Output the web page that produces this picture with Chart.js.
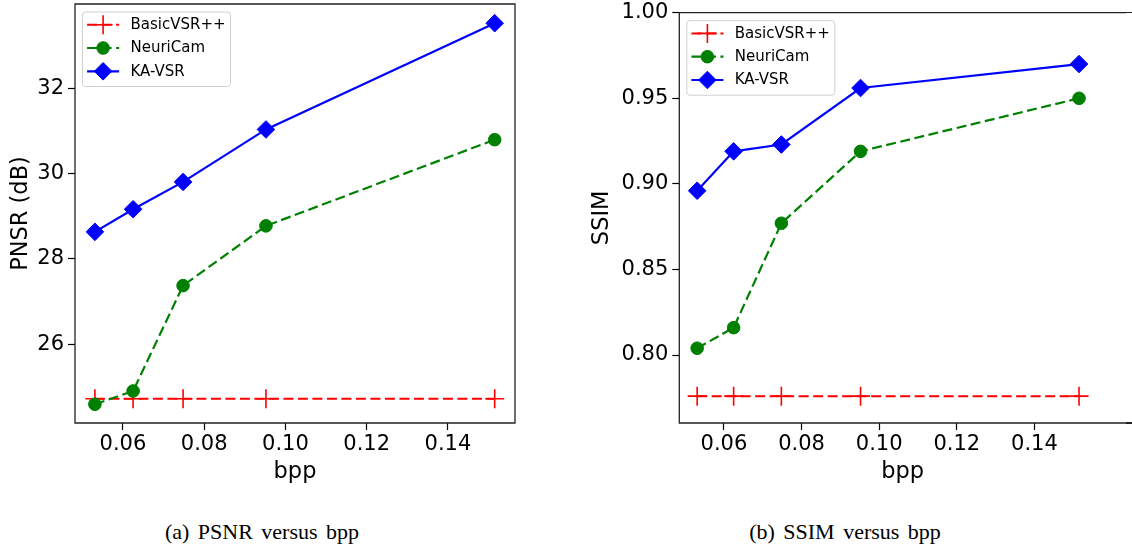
<!DOCTYPE html>
<html>
<head>
<meta charset="utf-8">
<script src="https://cdn.jsdelivr.net/npm/chart.js@4.4.1/dist/chart.umd.min.js"></script>
<style>
  html, body { margin: 0; padding: 0; background: #fff; width: 1132px; height: 549px; overflow: hidden; position: relative; }
  canvas { position: absolute; top: 0; }
  #c1 { left: 0; }
  #c2 { left: 570px; }
  .cap { position: absolute; font-family: "Liberation Serif", "Times New Roman", serif; font-size: 22px; word-spacing: 3px; color: #000; text-align: center; width: 300px; top: 517px; line-height: 30px; white-space: nowrap; }
  .spine { position: absolute; left: 1126px; width: 6px; height: 1.3px; background: #222; }
</style>
</head>
<body>
<canvas id="c1" width="530" height="500"></canvas>
<canvas id="c2" width="556" height="500"></canvas>
<div class="spine" style="top:12.05px;"></div>
<div class="spine" style="top:422.35px;"></div>
<div class="cap" style="left:112px;">(a) PSNR versus bpp</div>
<div class="cap" style="left:695px;">(b) SSIM versus bpp</div>
<script>
// ---- data ----
const bpp = [0.0531, 0.0625, 0.0748, 0.0952, 0.1515];
const seriesNames = ['BasicVSR++', 'NeuriCam', 'KA-VSR'];
const psnrBasicVSR = [24.72, 24.72, 24.72, 24.72, 24.72];
const psnrNeuriCam = [24.59, 24.90, 27.37, 28.77, 30.79];
const psnrKAVSR = [28.63, 29.16, 29.80, 31.03, 33.52];
const ssimBasicVSR = [0.776, 0.776, 0.776, 0.776, 0.776];
const ssimNeuriCam = [0.804, 0.816, 0.877, 0.919, 0.950];
const ssimKAVSR = [0.896, 0.919, 0.923, 0.956, 0.970];
const xTicks = [0.06, 0.08, 0.10, 0.12, 0.14];
const psnrTicks = [26, 28, 30, 32];
const ssimTicks = [0.80, 0.85, 0.90, 0.95, 1.00];

const FONT = '"DejaVu Sans", Verdana, sans-serif';

function pts(xs, ys) { return xs.map((x, i) => ({ x: x, y: ys[i] })); }

function makeDatasets(basic, neuri, ka) {
  return [
    { label: seriesNames[0], data: pts(bpp, basic), borderColor: '#ff0000', backgroundColor: '#ff0000',
      borderWidth: 2, borderDash: [10, 4.5], pointStyle: 'cross', pointRadius: 9.5, pointBorderWidth: 1.6,
      pointBorderColor: '#ff0000', pointBackgroundColor: '#ff0000', order: 3 },
    { label: seriesNames[1], data: pts(bpp, neuri), borderColor: '#008000', backgroundColor: '#008000',
      borderWidth: 2.2, borderDash: [10, 4.5], pointStyle: 'circle', pointRadius: 6.3, pointBorderWidth: 1,
      pointBorderColor: '#008000', pointBackgroundColor: '#008000', order: 2 },
    { label: seriesNames[2], data: pts(bpp, ka), borderColor: '#0000ff', backgroundColor: '#0000ff',
      borderWidth: 2.2, borderDash: [], pointStyle: 'rectRot', pointRadius: 8.8, pointBorderWidth: 1,
      pointBorderColor: '#0000ff', pointBackgroundColor: '#0000ff', order: 1 }
  ];
}

function drawMarker(ctx, style, x, y, r, color, bw) {
  ctx.save();
  ctx.fillStyle = color; ctx.strokeStyle = color; ctx.lineWidth = bw;
  ctx.setLineDash([]);
  ctx.beginPath();
  if (style === 'cross') {
    ctx.moveTo(x - r, y); ctx.lineTo(x + r, y);
    ctx.moveTo(x, y - r); ctx.lineTo(x, y + r);
    ctx.stroke();
  } else if (style === 'circle') {
    ctx.arc(x, y, r, 0, Math.PI * 2); ctx.fill(); ctx.stroke();
  } else {
    ctx.moveTo(x, y - r); ctx.lineTo(x + r, y); ctx.lineTo(x, y + r); ctx.lineTo(x - r, y); ctx.closePath();
    ctx.fill(); ctx.stroke();
  }
  ctx.restore();
}

const framePlugin = {
  id: 'frame',
  beforeDatasetsDraw(chart) {
    const { ctx, chartArea: a } = chart;
    const drawRight = chart.canvas.id === 'c1';
    ctx.save();
    ctx.strokeStyle = '#222';
    ctx.lineWidth = 1.3;
    ctx.beginPath();
    ctx.moveTo(a.right + (drawRight ? 0 : 5), a.top);
    ctx.lineTo(a.left, a.top);
    ctx.lineTo(a.left, a.bottom);
    ctx.lineTo(a.right + (drawRight ? 0 : 5), a.bottom);
    if (drawRight) ctx.closePath();
    ctx.stroke();
    ctx.restore();
  }
};

const legendPlugin = {
  id: 'mplLegend',
  afterDatasetsDraw(chart) {
    const { ctx, chartArea: a } = chart;
    const x0 = a.left + 7.5, y0 = a.top + 8, w = 148, h = 74.5;
    ctx.save();
    ctx.beginPath();
    ctx.roundRect(x0, y0, w, h, 3);
    ctx.fillStyle = 'rgba(255,255,255,0.85)';
    ctx.fill();
    ctx.strokeStyle = '#d0d0d0';
    ctx.lineWidth = 1;
    ctx.stroke();
    chart.data.datasets.forEach((ds, i) => {
      const cy = y0 + 12.7 + i * 23.3;
      const hx0 = x0 + 4.6, hx1 = x0 + 36.6, mx = (hx0 + hx1) / 2;
      ctx.beginPath();
      ctx.setLineDash(ds.borderDash || []);
      ctx.lineWidth = ds.borderWidth;
      ctx.strokeStyle = ds.borderColor;
      ctx.moveTo(hx0, cy); ctx.lineTo(hx1, cy);
      ctx.stroke();
      ctx.setLineDash([]);
      drawMarker(ctx, ds.pointStyle, mx, cy, ds.pointRadius, ds.borderColor, ds.pointBorderWidth);
      ctx.fillStyle = '#000';
      ctx.font = '15px ' + FONT;
      ctx.textBaseline = 'middle';
      ctx.textAlign = 'left';
      ctx.fillText(ds.label, x0 + 48, cy + 0.5);
    });
    ctx.restore();
  }
};

function makeChart(id, datasets, opt) {
  return new Chart(document.getElementById(id), {
    type: 'scatter',
    data: { datasets: datasets.map(d => Object.assign({ showLine: true, clip: false, tension: 0 }, d)) },
    options: {
      responsive: false,
      animation: false,
      devicePixelRatio: 1,
      layout: { autoPadding: false, padding: { top: opt.padTop, right: opt.padRight, left: 0, bottom: 0 } },
      plugins: { legend: { display: false }, tooltip: { enabled: false } },
      scales: {
        x: {
          type: 'linear', min: opt.xMin, max: opt.xMax,
          afterBuildTicks: s => { s.ticks = xTicks.map(v => ({ value: v })); },
          afterFit: s => { s.height = opt.xAxisH; s.paddingLeft = 0; s.paddingRight = 0; },
          ticks: { color: '#000', font: { family: FONT, size: 21 }, padding: 2,
                   callback: v => Number(v).toFixed(2), maxRotation: 0, autoSkip: false },
          grid: { drawOnChartArea: false, drawTicks: true, tickLength: 7, tickColor: '#000', tickWidth: 1.2 },
          border: { display: false },
          title: { display: true, text: 'bpp', color: '#000', font: { family: FONT, size: 22.5 }, padding: { top: 0, bottom: 14 } }
        },
        y: {
          type: 'linear', min: opt.yMin, max: opt.yMax,
          afterBuildTicks: s => { s.ticks = opt.yTicks.map(v => ({ value: v })); },
          afterFit: s => { s.width = opt.yAxisW; s.paddingTop = 0; s.paddingBottom = 0; },
          ticks: { color: '#000', font: { family: FONT, size: 21 }, padding: 4,
                   callback: opt.yFmt, autoSkip: false },
          grid: { drawOnChartArea: false, drawTicks: true, tickLength: 7, tickColor: '#000', tickWidth: 1.2 },
          border: { display: false },
          title: { display: true, text: opt.yTitle, color: '#000', font: { family: FONT, size: 22.5 }, padding: { top: opt.yTitlePad, bottom: 0 } }
        }
      }
    },
    plugins: [framePlugin, legendPlugin]
  });
}

makeChart('c1', makeDatasets(psnrBasicVSR, psnrNeuriCam, psnrKAVSR), {
  padTop: 4, padRight: 15, xMin: 0.0482, xMax: 0.1565, yMin: 24.15, yMax: 33.97,
  yTicks: psnrTicks, yFmt: v => String(Math.round(v)), yTitle: 'PNSR (dB)',
  yAxisW: 75, xAxisH: 77, yTitlePad: 8
});

makeChart('c2', makeDatasets(ssimBasicVSR, ssimNeuriCam, ssimKAVSR), {
  padTop: 12.7, padRight: 0, xMin: 0.0485, xMax: 0.1636, yMin: 0.7603, yMax: 1.0,
  yTicks: ssimTicks, yFmt: v => Number(v).toFixed(2), yTitle: 'SSIM',
  yAxisW: 109.3, xAxisH: 77, yTitlePad: 19
});
</script>
</body>
</html>
